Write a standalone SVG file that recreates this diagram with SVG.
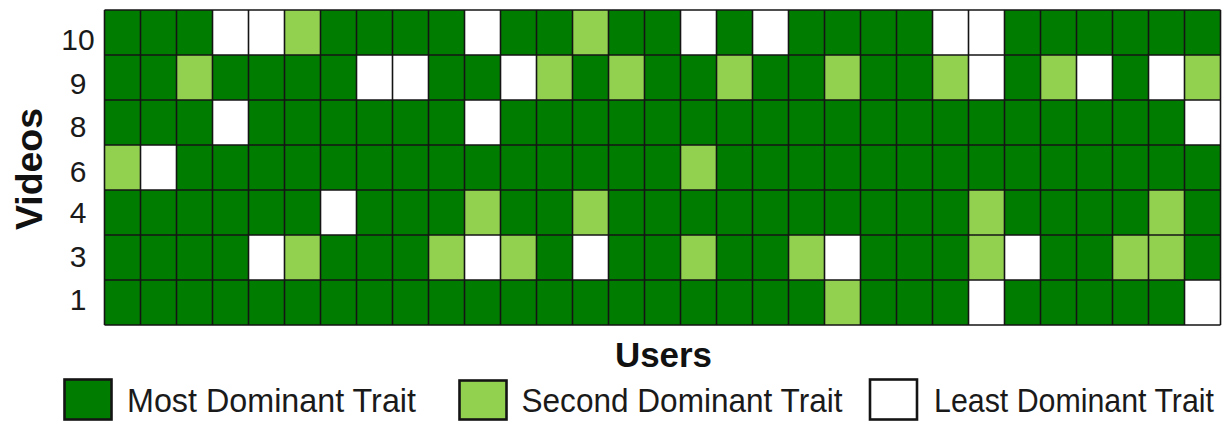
<svg xmlns="http://www.w3.org/2000/svg" width="1225" height="421" viewBox="0 0 1225 421">
  <style>
    .bg { fill: #ffffff; }
    .d { fill: #007d00; }
    .l { fill: #92d050; }
    .w { fill: #ffffff; }
    .grid { fill: none; stroke: #141414; stroke-width: 1.6; }
    .key { stroke: #141414; stroke-width: 2.6; }
    .tick { font-family: "Liberation Sans", Arial, sans-serif; font-size: 30px; fill: #1a1a1a; text-anchor: middle; }
    .axis { font-family: "Liberation Sans", Arial, sans-serif; font-weight: bold; fill: #111111; }
    .legend { font-family: "Liberation Sans", Arial, sans-serif; font-size: 33px; fill: #1a1a1a; }
  </style>

  <rect class="bg" x="0" y="0" width="1225" height="421"/>

  <!-- heat map: 31 users (columns) x 7 videos (rows), cell 36 x 45 -->
  <g id="heatmap">
    <rect class="d" x="104.5" y="10" width="1116" height="315"/>

    <g id="row-10">
      <rect class="w" x="212.5" y="10" width="36" height="45"/>
      <rect class="w" x="248.5" y="10" width="36" height="45"/>
      <rect class="l" x="284.5" y="10" width="36" height="45"/>
      <rect class="w" x="464.5" y="10" width="36" height="45"/>
      <rect class="l" x="572.5" y="10" width="36" height="45"/>
      <rect class="w" x="680.5" y="10" width="36" height="45"/>
      <rect class="w" x="752.5" y="10" width="36" height="45"/>
      <rect class="w" x="932.5" y="10" width="36" height="45"/>
      <rect class="w" x="968.5" y="10" width="36" height="45"/>
    </g>

    <g id="row-9">
      <rect class="l" x="176.5" y="55" width="36" height="45"/>
      <rect class="w" x="356.5" y="55" width="36" height="45"/>
      <rect class="w" x="392.5" y="55" width="36" height="45"/>
      <rect class="w" x="500.5" y="55" width="36" height="45"/>
      <rect class="l" x="536.5" y="55" width="36" height="45"/>
      <rect class="l" x="608.5" y="55" width="36" height="45"/>
      <rect class="l" x="716.5" y="55" width="36" height="45"/>
      <rect class="l" x="824.5" y="55" width="36" height="45"/>
      <rect class="l" x="932.5" y="55" width="36" height="45"/>
      <rect class="w" x="968.5" y="55" width="36" height="45"/>
      <rect class="l" x="1040.5" y="55" width="36" height="45"/>
      <rect class="w" x="1076.5" y="55" width="36" height="45"/>
      <rect class="w" x="1148.5" y="55" width="36" height="45"/>
      <rect class="l" x="1184.5" y="55" width="36" height="45"/>
    </g>

    <g id="row-8">
      <rect class="w" x="212.5" y="100" width="36" height="45"/>
      <rect class="w" x="464.5" y="100" width="36" height="45"/>
      <rect class="w" x="1184.5" y="100" width="36" height="45"/>
    </g>

    <g id="row-6">
      <rect class="l" x="104.5" y="145" width="36" height="45"/>
      <rect class="w" x="140.5" y="145" width="36" height="45"/>
      <rect class="l" x="680.5" y="145" width="36" height="45"/>
    </g>

    <g id="row-4">
      <rect class="w" x="320.5" y="190" width="36" height="45"/>
      <rect class="l" x="464.5" y="190" width="36" height="45"/>
      <rect class="l" x="572.5" y="190" width="36" height="45"/>
      <rect class="l" x="968.5" y="190" width="36" height="45"/>
      <rect class="l" x="1148.5" y="190" width="36" height="45"/>
    </g>

    <g id="row-3">
      <rect class="w" x="248.5" y="235" width="36" height="45"/>
      <rect class="l" x="284.5" y="235" width="36" height="45"/>
      <rect class="l" x="428.5" y="235" width="36" height="45"/>
      <rect class="w" x="464.5" y="235" width="36" height="45"/>
      <rect class="l" x="500.5" y="235" width="36" height="45"/>
      <rect class="w" x="572.5" y="235" width="36" height="45"/>
      <rect class="l" x="680.5" y="235" width="36" height="45"/>
      <rect class="l" x="788.5" y="235" width="36" height="45"/>
      <rect class="w" x="824.5" y="235" width="36" height="45"/>
      <rect class="l" x="968.5" y="235" width="36" height="45"/>
      <rect class="w" x="1004.5" y="235" width="36" height="45"/>
      <rect class="l" x="1112.5" y="235" width="36" height="45"/>
      <rect class="l" x="1148.5" y="235" width="36" height="45"/>
    </g>

    <g id="row-1">
      <rect class="l" x="824.5" y="280" width="36" height="45"/>
      <rect class="w" x="968.5" y="280" width="36" height="45"/>
      <rect class="w" x="1184.5" y="280" width="36" height="45"/>
    </g>

    <!-- cell borders -->
    <path class="grid" d="M104.5 10V325M140.5 10V325M176.5 10V325M212.5 10V325M248.5 10V325M284.5 10V325M320.5 10V325M356.5 10V325M392.5 10V325M428.5 10V325M464.5 10V325M500.5 10V325M536.5 10V325M572.5 10V325M608.5 10V325M644.5 10V325M680.5 10V325M716.5 10V325M752.5 10V325M788.5 10V325M824.5 10V325M860.5 10V325M896.5 10V325M932.5 10V325M968.5 10V325M1004.5 10V325M1040.5 10V325M1076.5 10V325M1112.5 10V325M1148.5 10V325M1184.5 10V325M1220.5 10V325M104.5 10H1220.5M104.5 55H1220.5M104.5 100H1220.5M104.5 145H1220.5M104.5 190H1220.5M104.5 235H1220.5M104.5 280H1220.5M104.5 325H1220.5"/>
  </g>

  <!-- video tick labels -->
  <g id="y-ticks">
    <text class="tick" x="78" y="50">10</text>
    <text class="tick" x="78" y="94.3">9</text>
    <text class="tick" x="78" y="136.7">8</text>
    <text class="tick" x="78" y="181.7">6</text>
    <text class="tick" x="78" y="223.3">4</text>
    <text class="tick" x="78" y="266.7">3</text>
    <text class="tick" x="78" y="310">1</text>
  </g>

  <!-- axis titles -->
  <text id="y-title" class="axis" font-size="37" text-anchor="middle" textLength="122" lengthAdjust="spacingAndGlyphs" transform="translate(41.5 169) rotate(-90)">Videos</text>
  <text id="x-title" class="axis" font-size="35" x="615" y="366.5" textLength="97" lengthAdjust="spacingAndGlyphs">Users</text>

  <!-- legend -->
  <g id="legend-most">
    <rect class="key d" x="64.5" y="379.5" width="47" height="40"/>
    <text class="legend" x="127" y="411.7" textLength="289" lengthAdjust="spacingAndGlyphs">Most Dominant Trait</text>
  </g>
  <g id="legend-second">
    <rect class="key l" x="459.5" y="380.5" width="47" height="39"/>
    <text class="legend" x="521.5" y="411.7" textLength="321" lengthAdjust="spacingAndGlyphs">Second Dominant Trait</text>
  </g>
  <g id="legend-least">
    <rect class="key w" x="870" y="379.5" width="47" height="40"/>
    <text class="legend" x="934" y="411.7" textLength="280" lengthAdjust="spacingAndGlyphs">Least Dominant Trait</text>
  </g>
</svg>
